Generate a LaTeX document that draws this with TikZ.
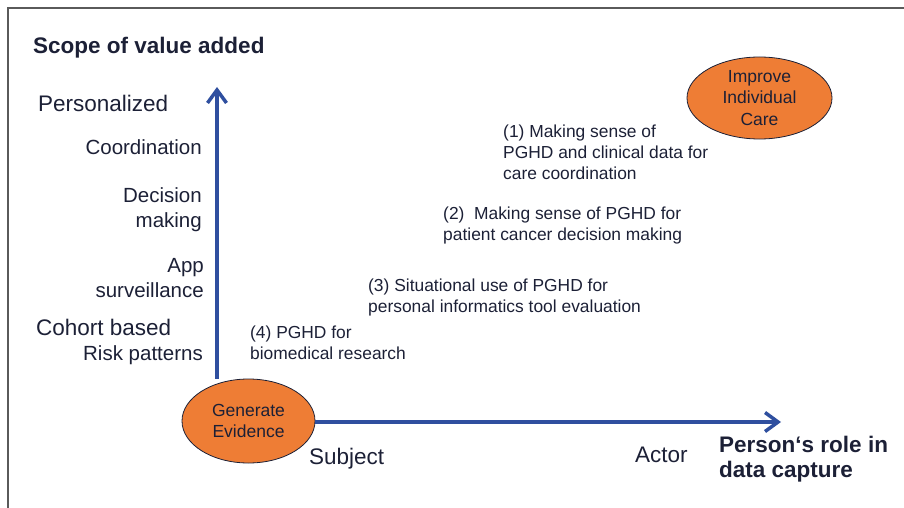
\documentclass[tikz,border=0pt]{standalone}
\usepackage{fontspec}
\setmainfont{Liberation Sans}
\usetikzlibrary{arrows.meta,shapes.geometric}
\definecolor{txt}{HTML}{1C2036}
\definecolor{axisblue}{HTML}{2F4F9F}
\definecolor{orng}{HTML}{EE7D35}
\definecolor{frame}{HTML}{5A5A5A}
\tikzset{
  big/.style={font=\fontsize{22.5}{25}\selectfont, text=txt, inner sep=0pt},
  bigbold/.style={font=\bfseries\fontsize{22.5}{25}\selectfont, text=txt, inner sep=0pt},
  mid/.style={font=\fontsize{20.5}{24.5}\selectfont, text=txt, inner sep=0pt},
  small/.style={font=\fontsize{17.4}{21}\selectfont, text=txt, inner sep=0pt},
  blob/.style={ellipse, draw=txt, line width=0.8pt, fill=orng, inner sep=0pt,
    font=\fontsize{17.5}{21.5}\selectfont, text=txt, align=center},
  axisline/.style={draw=axisblue, line width=3.5pt,
    -{Straight Barb[length=13pt,width=19pt,line width=3.5pt]}},
}
\begin{document}
\begin{tikzpicture}[x=1pt,y=-1pt]
\useasboundingbox (0,0) rectangle (904,508);
% frame
\draw[frame, line width=1.5pt] (904,8) -- (8,8) -- (8,508);
% ellipses
\node[blob, minimum width=133pt, minimum height=84pt] (gen) at (248.5,421) {Generate\\Evidence};
\node[blob, minimum width=145pt, minimum height=82pt] (imp) at (759.5,98) {Improve\\Individual\\Care};
% axes
\coordinate (ytip) at (217,87);
\coordinate (xtip) at (781,422);
\draw[axisline] (gen.north -| ytip) -- (ytip);
\draw[axisline] (gen.east |- xtip) -- (xtip);
% axis titles (multi-line nodes: base = last line)
\node[bigbold, anchor=base west] (scope) at (33,54) {Scope of value added};
\node[bigbold, anchor=base west, align=left] (role) at (719,477) {Person‘s role in\\data capture};
% y labels
\node[big, anchor=base west] (pers) at (38,112) {Personalized};
\node[mid, anchor=base east] (coord) at (202,154) {Coordination};
\node[mid, anchor=base east, align=right] (dec) at (202,227) {Decision\\making};
\node[mid, anchor=base east, align=right, font=\fontsize{20.5}{25}\selectfont] (app) at (204,297) {App\\surveillance};
\node[big, anchor=base west] (coh) at (36,335) {Cohort based};
\node[mid, anchor=base east] (risk) at (203,360) {Risk patterns};
% x labels
\node[big, anchor=base west] (subj) at (309,464) {Subject};
\node[big, anchor=base west] (act) at (635,462) {Actor};
% items
\node[small, anchor=base west, align=left] (i1) at (503,179) {(1) Making sense of\\PGHD and clinical data for\\care coordination};
\node[small, anchor=base west, align=left] (i2) at (443,240) {(2)\ \ Making sense of PGHD for\\patient cancer decision making};
\node[small, anchor=base west, align=left] (i3) at (368,312) {(3) Situational use of PGHD for\\personal informatics tool evaluation};
\node[small, anchor=base west, align=left] (i4) at (250,359) {(4) PGHD for\\biomedical research};
\end{tikzpicture}
\end{document}
